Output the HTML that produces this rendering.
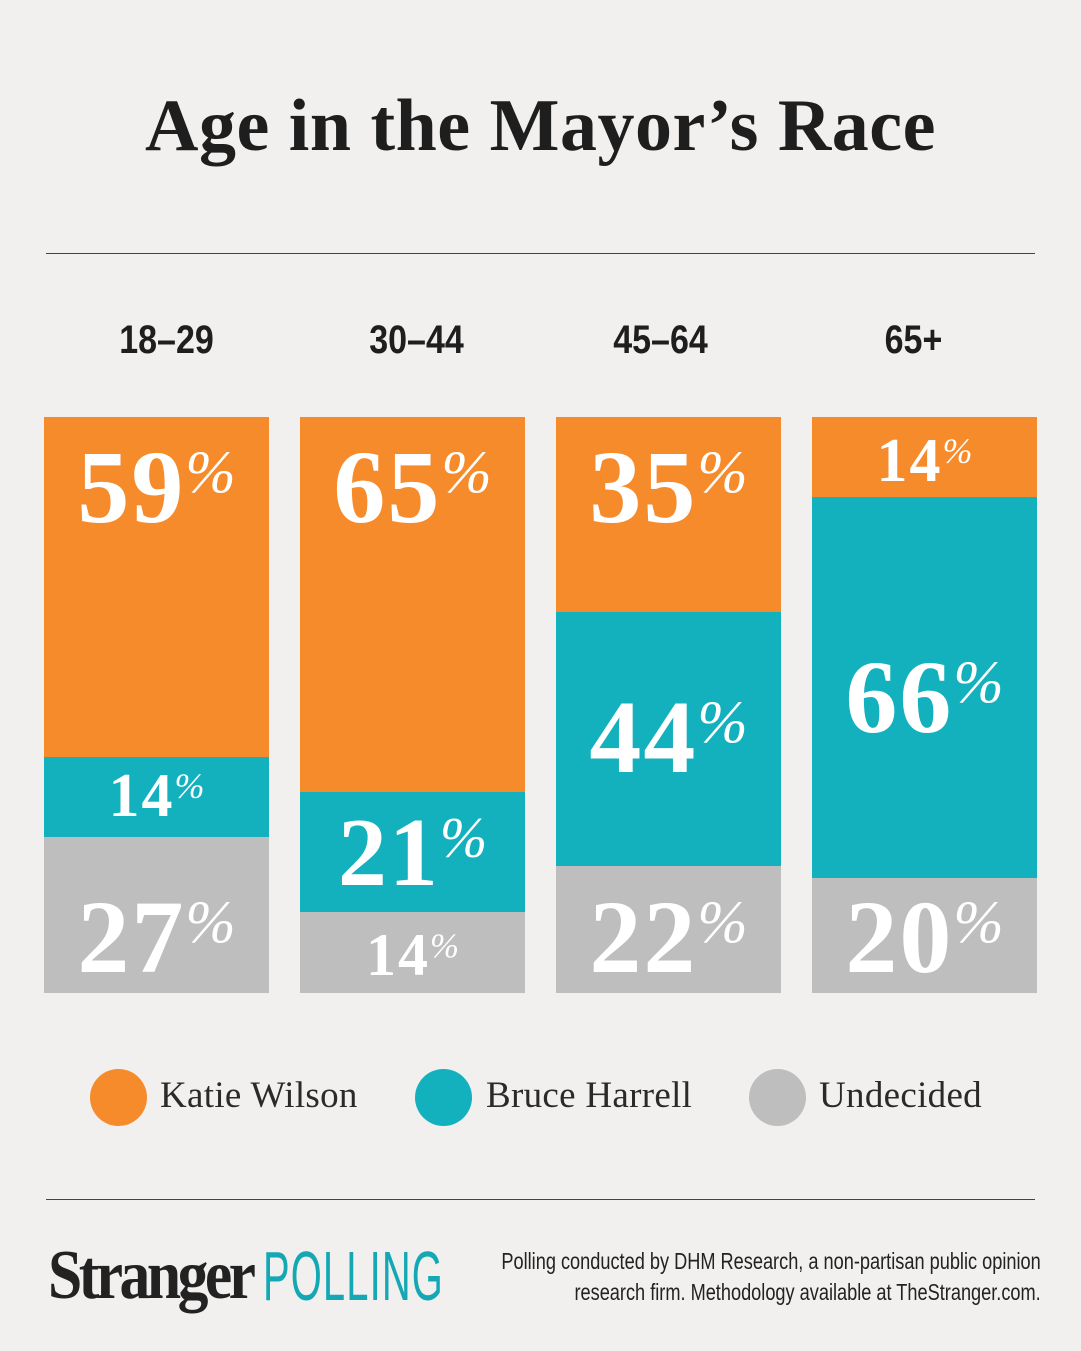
<!DOCTYPE html>
<html><head><meta charset="utf-8"><style>
body{margin:0;width:1081px;height:1351px;background:#f1f0ee;position:relative;overflow:hidden;font-family:"Liberation Serif",serif}
.a{position:absolute}
h1{position:absolute;left:0;width:1081px;top:84px;margin:0;text-align:center;font:bold 74px "Liberation Serif",serif;color:#1e1e1e;letter-spacing:.5px}
.hr{position:absolute;left:46px;width:989px;height:1px;background:#444}
.age{position:absolute;top:318px;width:225px;text-align:center;font:bold 40px "Liberation Sans",sans-serif;color:#1e1e1e;transform:scaleX(.85)}
.seg{position:absolute;width:225px}
.o{background:#f68b2b}.t{background:#12b1bd}.g{background:#bebebf}
.lb{position:absolute;width:225px;text-align:center;color:#fff;font-weight:bold;line-height:1;white-space:nowrap;letter-spacing:2px}
.lb sup{font-size:.58em;font-style:italic;font-weight:normal;vertical-align:.5em;letter-spacing:0}
.dot{position:absolute;width:57px;height:57px;border-radius:50%;top:1069px}
.lg{position:absolute;top:1074px;font-size:37px;color:#2a2a2a;letter-spacing:.3px}
</style></head><body>
<h1>Age in the Mayor’s Race</h1>
<div class="hr" style="top:253px"></div>
<div class="hr" style="top:1199px"></div>
<div class="age" style="left:54px">18–29</div>
<div class="age" style="left:304px">30–44</div>
<div class="age" style="left:548px">45–64</div>
<div class="age" style="left:801px">65+</div>

<div class="seg o" style="left:44px;top:417px;height:340px"></div>
<div class="seg t" style="left:44px;top:757px;height:80px"></div>
<div class="seg g" style="left:44px;top:837px;height:156px"></div>
<div class="seg o" style="left:300px;top:417px;height:375px"></div>
<div class="seg t" style="left:300px;top:792px;height:120px"></div>
<div class="seg g" style="left:300px;top:912px;height:81px"></div>
<div class="seg o" style="left:556px;top:417px;height:195px"></div>
<div class="seg t" style="left:556px;top:612px;height:254px"></div>
<div class="seg g" style="left:556px;top:866px;height:127px"></div>
<div class="seg o" style="left:812px;top:417px;height:80px"></div>
<div class="seg t" style="left:812px;top:497px;height:381px"></div>
<div class="seg g" style="left:812px;top:878px;height:115px"></div>

<div class="lb" style="left:44px;top:436px;font-size:104px">59<sup>%</sup></div>
<div class="lb" style="left:44px;top:765px;font-size:62px">14<sup>%</sup></div>
<div class="lb" style="left:44px;top:886px;font-size:104px">27<sup>%</sup></div>
<div class="lb" style="left:300px;top:436px;font-size:104px">65<sup>%</sup></div>
<div class="lb" style="left:300px;top:804px;font-size:98px">21<sup>%</sup></div>
<div class="lb" style="left:300px;top:925px;font-size:60px">14<sup>%</sup></div>
<div class="lb" style="left:556px;top:436px;font-size:104px">35<sup>%</sup></div>
<div class="lb" style="left:556px;top:686px;font-size:104px">44<sup>%</sup></div>
<div class="lb" style="left:556px;top:886px;font-size:104px">22<sup>%</sup></div>
<div class="lb" style="left:812px;top:430px;font-size:62px">14<sup>%</sup></div>
<div class="lb" style="left:812px;top:646px;font-size:104px">66<sup>%</sup></div>
<div class="lb" style="left:812px;top:886px;font-size:104px">20<sup>%</sup></div>

<div class="dot o" style="left:90px"></div><div class="lg" style="left:160px">Katie Wilson</div>
<div class="dot t" style="left:415px"></div><div class="lg" style="left:486px">Bruce Harrell</div>
<div class="dot g" style="left:749px"></div><div class="lg" style="left:819px">Undecided</div>

<div class="a" style="left:48px;top:1236px;font:bold 70px 'Liberation Serif',serif;color:#222;letter-spacing:-4px;transform:scaleX(.88);transform-origin:left">Stranger</div>
<div class="a" style="left:263px;top:1236px;font:70px 'Liberation Sans',sans-serif;color:#14a8b5;transform:scaleX(.57);transform-origin:left;letter-spacing:2px">POLLING</div>
<div class="a" style="right:40px;top:1246px;text-align:right;font:23px/31px 'Liberation Sans',sans-serif;color:#222;transform:scaleX(.79);transform-origin:right;white-space:nowrap">Polling conducted by DHM Research, a non-partisan public opinion<br>research firm. Methodology available at TheStranger.com.</div>
</body></html>
